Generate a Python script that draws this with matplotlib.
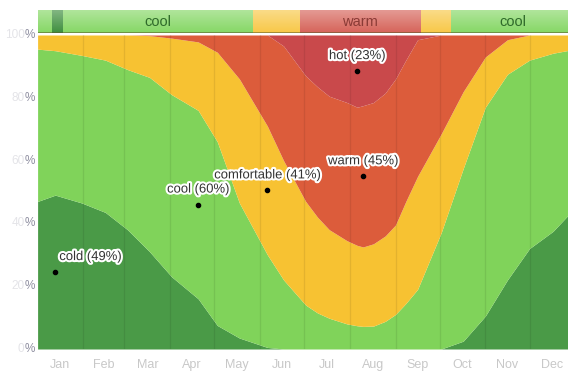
import numpy as np
import matplotlib
matplotlib.use("Agg")
import matplotlib.pyplot as plt
import matplotlib.patheffects as pe
from matplotlib import font_manager

# Day of year for each sample
days = [0, 12, 30, 46, 61, 76, 91, 109, 122, 137, 156, 167, 182, 190, 198, 210,
        217, 221, 228, 236, 243, 250, 258, 274, 289, 304, 319, 334, 350, 365]

# Cumulative upper edge (%) of each temperature band
cold_top = [47, 49, 46.5, 43.5, 38, 31, 23, 16, 7.5, 3.5, 0.5, 0, 0, 0, 0, 0,
            0, 0, 0, 0, 0, 0, 0, 0, 2.5, 10.5, 22, 32, 37.5, 45]
cool_top = [95.5, 95, 93.5, 92, 89, 86.5, 81, 76, 66, 46.5, 30, 22, 14, 11.5, 9.8, 8,
            7.4, 7.2, 7.3, 8.8, 11, 14.5, 19, 37, 57.5, 77, 87.5, 92, 94.2, 95.5]
comfortable_top = [100, 100, 100, 100, 100, 99.8, 99, 97.8, 94.5, 86, 71, 60, 47, 42, 38, 34.5,
                   33, 32.5, 33.5, 36, 39.5, 47, 55, 68.5, 82, 93, 98.5, 100, 100, 100]
warm_top = [100, 100, 100, 100, 100, 100, 100, 100, 100, 100, 100, 96.5, 87, 83.5, 80.5, 78.5,
            77, 77.5, 78.5, 81.5, 86, 92, 98.5, 100, 100, 100, 100, 100, 100, 100]
hot_top = [100] * len(days)

categories = ["cold", "cool", "comfortable", "warm", "hot"]
band_colors = ["#4a9a47", "#80d35a", "#f7c232", "#dc5c3b", "#c9494b"]

# Peak share of each category and the day it occurs
label_cats = ["cold", "cool", "comfortable", "warm", "hot"]
label_days = [12, 109, 156, 221, 217]
label_values = [49, 60, 41, 45, 23]

months = ["Jan", "Feb", "Mar", "Apr", "May", "Jun",
          "Jul", "Aug", "Sep", "Oct", "Nov", "Dec"]
month_starts = [0, 31, 59, 90, 120, 151, 181, 212, 243, 273, 304, 334, 365]

# Summary strip across the top
strip_cats = ["cool", "cold", "cool", "comfortable", "warm", "comfortable", "cool"]
strip_starts = [0, 10, 17, 146, 178, 260, 281]
strip_ends = [10, 17, 146, 178, 260, 281, 365]
strip_colors = {"cold": "#3f8f3f", "cool": "#86d766",
                "comfortable": "#f8c848", "warm": "#d6645a"}
strip_text_colors = {"cool": "#2f6a2a", "warm": "#8a3b36"}

yticks = [0, 20, 40, 60, 80, 100]


def pick_font(names, fallback="DejaVu Sans"):
    for n in names:
        try:
            font_manager.findfont(n, fallback_to_default=False)
            return n
        except Exception:
            pass
    return fallback


label_font = pick_font(["Liberation Sans", "Arimo"])
strip_font = pick_font(["Liberation Sans Narrow", "Liberation Sans"])

W, H = 568, 372
fig = plt.figure(figsize=(W / 100, H / 100), dpi=100)
fig.patch.set_facecolor("white")

left_px, right_px = 37.6, 575.2
top_px, bottom_px = 35, 349
ax = fig.add_axes([left_px / W, (H - bottom_px) / H,
                   (right_px - left_px) / W, (bottom_px - top_px) / H])

layers = [np.zeros(len(days)), np.array(cold_top), np.array(cool_top),
          np.array(comfortable_top), np.array(warm_top), np.array(hot_top)]
for i, cat in enumerate(categories):
    ax.fill_between(days, layers[i], layers[i + 1], color=band_colors[i],
                    linewidth=0, zorder=1)

for d in month_starts[1:-1]:
    ax.axvline(d, color="black", alpha=0.08, lw=0.9, zorder=2)

ax.set_xlim(0, 365)
ax.set_ylim(0, 100)
ax.set_xticks([])
ax.set_yticks([])
for s in ax.spines.values():
    s.set_visible(False)

# Category labels with marker at the middle of each band
halo = [pe.withStroke(linewidth=3, foreground="white")]
for cat, d, v in zip(label_cats, label_days, label_values):
    k = categories.index(cat)
    lo = np.interp(d, days, layers[k])
    y = lo + v / 2
    ax.plot(d, y, "o", color="black", ms=3, zorder=5)
    if d < 30:
        xt, ha = (4, "left")
    else:
        xt, ha = (0, "center")
    ax.annotate(f"{cat} ({v}%)", xy=(d, y), xytext=(xt, 15),
                textcoords="offset pixels", ha=ha, va="center",
                fontsize=9.4, family=label_font, color="#333333",
                path_effects=halo, zorder=6)

# Percent axis labels: faded digits, darker percent sign
pct_w = 10
for t in yticks:
    ax.annotate(f"{t}", xy=(0, t), xytext=(-3 - pct_w, 0), textcoords="offset pixels",
                ha="right", va="center", fontsize=8.5, family=label_font,
                color="#e4e4e8", annotation_clip=False)
    ax.annotate("%", xy=(0, t), xytext=(-3, 0), textcoords="offset pixels",
                ha="right", va="center", fontsize=8.5, family=label_font,
                color="#8e8ea0", annotation_clip=False)

# Month names
for i, m in enumerate(months):
    mid = (month_starts[i] + month_starts[i + 1]) / 2
    ax.annotate(m, xy=(mid, 0), xytext=(0, -16), textcoords="offset pixels",
                ha="center", va="center", fontsize=9, family=label_font,
                color="#c8c8c8", annotation_clip=False)

# Top summary strip
strip_top, strip_bottom = 10, 33
sax = fig.add_axes([left_px / W, (H - strip_bottom) / H,
                    (right_px - left_px) / W, (strip_bottom - strip_top) / H])
for cat, a, b in zip(strip_cats, strip_starts, strip_ends):
    sax.axvspan(a, b, color=strip_colors[cat], lw=0, zorder=1)
    if b - a > 50:
        sax.text((a + b) / 2, 0.5, cat, ha="center", va="center",
                 fontsize=10.5, family=strip_font,
                 color=strip_text_colors.get(cat, "#333333"), zorder=4)
gloss = np.ones((50, 1, 4))
gloss[:, 0, 3] = np.linspace(0.0, 0.35, 50)
sax.imshow(gloss, extent=(0, 365, 0, 1), aspect="auto", origin="lower",
           zorder=2, interpolation="bilinear")
sax.axhline(0, color="#5a5a2a", alpha=0.55, lw=1.4, zorder=3)
sax.set_xlim(0, 365)
sax.set_ylim(0, 1)
sax.set_xticks([])
sax.set_yticks([])
for s in sax.spines.values():
    s.set_visible(False)

fig.savefig("out.png", dpi=100)
